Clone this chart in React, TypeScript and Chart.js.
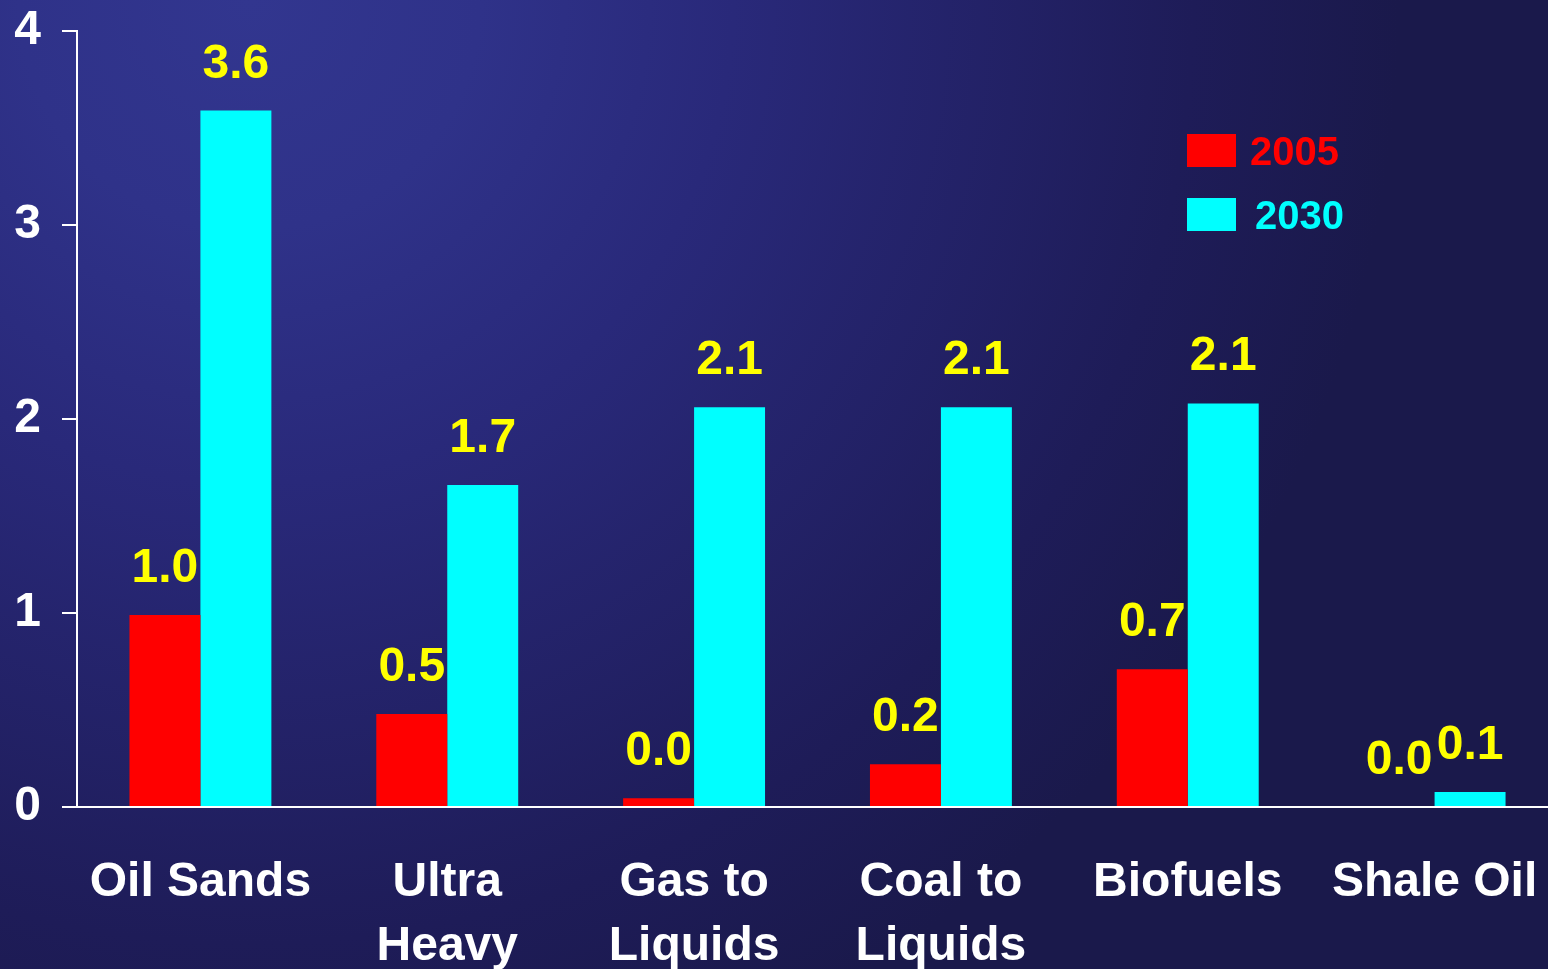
import React, { useEffect, useRef } from "react";
import { Chart, registerables } from "chart.js";

Chart.register(...registerables);

const categories: (string | string[])[] = [
  "Oil Sands",
  ["Ultra", "Heavy"],
  ["Gas to", "Liquids"],
  ["Coal to", "Liquids"],
  "Biofuels",
  "Shale Oil",
];
const values2005 = [0.99, 0.48, 0.045, 0.22, 0.71, 0];
const values2030 = [3.59, 1.66, 2.06, 2.06, 2.08, 0.077];
const seriesNames = ["2005", "2030"];
const seriesColors = ["#ff0000", "#00ffff"];
const yTicks = [0, 1, 2, 3, 4];

const FONT = "'Liberation Sans', Arial, Helvetica, sans-serif";

const bgPlugin = {
  id: "bg",
  beforeDraw(chart: any) {
    const { ctx, width, height } = chart;
    ctx.save();
    const g = ctx.createRadialGradient(250, 0, 0, 250, 0, 1150);
    g.addColorStop(0, "#32368f");
    g.addColorStop(0.2, "#2f3289");
    g.addColorStop(0.42, "#29297a");
    g.addColorStop(0.82, "#1e1c58");
    g.addColorStop(1, "#1a194b");
    ctx.fillStyle = g;
    ctx.fillRect(0, 0, width, height);
    ctx.restore();
  },
};

const labelPlugin = {
  id: "valueLabels",
  afterDatasetsDraw(chart: any) {
    const { ctx } = chart;
    ctx.save();
    ctx.font = `bold 48px ${FONT}`;
    ctx.fillStyle = "#ffff00";
    ctx.textAlign = "center";
    ctx.textBaseline = "alphabetic";
    chart.data.datasets.forEach((ds: any, di: number) => {
      const meta = chart.getDatasetMeta(di);
      meta.data.forEach((bar: any, i: number) => {
        const v = ds.data[i] as number;
        ctx.fillText(v.toFixed(1), bar.x, bar.y - 33);
      });
    });
    ctx.restore();
  },
};

const legendPlugin = {
  id: "customLegend",
  afterDraw(chart: any) {
    const { ctx } = chart;
    ctx.save();
    ctx.font = `bold 40px ${FONT}`;
    ctx.textBaseline = "alphabetic";
    ctx.textAlign = "left";
    chart.data.datasets.forEach((ds: any, di: number) => {
      const top = 134 + di * 64;
      ctx.fillStyle = ds.backgroundColor;
      ctx.fillRect(1187, top, 49, 33);
      ctx.fillText(ds.label, 1250 + di * 5, top + 31);
    });
    ctx.restore();
  },
};

export default function App() {
  const ref = useRef<HTMLCanvasElement | null>(null);
  useEffect(() => {
    document.body.style.margin = "0";
    document.body.style.background = "#1a194b";
    document.body.style.overflow = "hidden";
    const chart = new Chart(ref.current as HTMLCanvasElement, {
      type: "bar",
      data: {
        labels: categories,
        datasets: [
          { label: seriesNames[0], data: values2005, backgroundColor: seriesColors[0] },
          { label: seriesNames[1], data: values2030, backgroundColor: seriesColors[1] },
        ],
      },
      options: {
        animation: false,
        responsive: false,
        devicePixelRatio: 1,
        layout: { padding: { top: 31, left: 0, right: 2, bottom: 0 } },
        plugins: { legend: { display: false }, tooltip: { enabled: false } },
        datasets: { bar: { categoryPercentage: 0.575, barPercentage: 1.0, borderWidth: 0 } },
        scales: {
          x: {
            grid: { display: false },
            border: { display: true, color: "#ffffff", width: 2 },
            ticks: {
              color: "#ffffff",
              font: { family: FONT, size: 48, weight: "bold", lineHeight: 1.35 },
              padding: 35,
              maxRotation: 0,
              autoSkip: false,
            },
            afterFit(scale: any) {
              scale.height = 162;
              scale.paddingLeft = 0;
              scale.paddingRight = 0;
            },
          },
          y: {
            min: 0,
            max: 4,
            afterBuildTicks(scale: any) {
              scale.ticks = yTicks.map((v) => ({ value: v }));
            },
            grid: {
              display: true,
              drawOnChartArea: false,
              drawTicks: true,
              tickLength: 15,
              color: "#ffffff",
              lineWidth: 2,
            },
            border: { display: true, color: "#ffffff", width: 2 },
            ticks: {
              color: "#ffffff",
              font: { family: FONT, size: 48, weight: "bold" },
              padding: 21,
            },
            afterFit(scale: any) {
              scale.width = 77;
              scale.paddingTop = 0;
              scale.paddingBottom = 0;
            },
          },
        },
      },
      plugins: [bgPlugin, labelPlugin, legendPlugin],
    });
    return () => chart.destroy();
  }, []);
  return (
    <div style={{ position: "fixed", left: 0, top: 0, width: 1548, height: 969, overflow: "hidden" }}>
      <canvas ref={ref} width={1560} height={969} style={{ display: "block" }} />
    </div>
  );
}
